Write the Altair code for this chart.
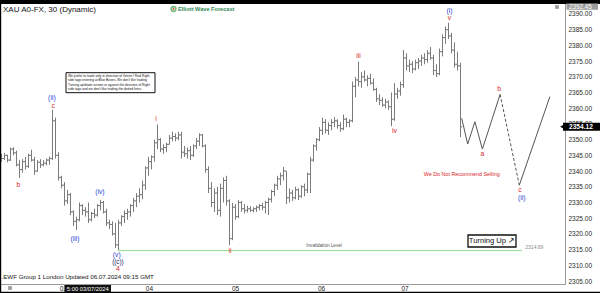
import altair as alt
import pandas as pd

FONT = "Liberation Sans"
RED = "#d81f1f"
BLUE = "#2a3fd6"
NAVY = "#1d2a6a"

# ---- 30-minute XAU bars: high / low / close (each bar opens at the prior close)
first_open = 2344.5
bar_high = [
    2345.5, 2345.8, 2345.2, 2347.5, 2347.6, 2346.5, 2343.5, 2343.8, 2344.5, 2345.5,
    2346.8, 2344.5, 2343.5, 2343.8, 2343.5, 2344.0, 2344.6, 2359.5, 2357.0, 2346.0,
    2338.5, 2336.5, 2334.0, 2333.0, 2327.5, 2325.5, 2330.0, 2329.5, 2328.5, 2330.0,
    2327.0, 2328.0, 2329.5, 2330.8, 2330.5, 2328.0, 2324.5, 2324.0, 2323.5, 2324.5,
    2326.0, 2327.5, 2328.0, 2329.5, 2331.5, 2333.0, 2334.5, 2337.0, 2341.5, 2344.5,
    2345.0, 2350.0, 2354.8, 2350.5, 2348.5, 2349.0, 2351.5, 2352.5, 2352.0, 2352.5,
    2352.5, 2348.0, 2347.5, 2348.0, 2348.5, 2350.5, 2352.0, 2351.8, 2348.5, 2341.5,
    2336.5, 2334.5, 2335.0, 2336.0, 2338.0, 2338.5, 2331.0, 2329.8, 2329.5, 2330.8,
    2330.5, 2329.5, 2329.0, 2328.8, 2328.5, 2329.0, 2329.5, 2329.8, 2330.5, 2331.5,
    2334.0, 2336.0, 2338.5, 2339.5, 2341.3, 2340.0, 2334.5, 2334.0, 2335.0, 2334.5,
    2335.5, 2336.0, 2339.5, 2344.5, 2348.5, 2350.5, 2354.0, 2357.0, 2356.5, 2355.5,
    2356.5, 2357.2, 2356.5, 2355.5, 2358.0, 2357.0, 2356.5, 2368.5, 2370.0, 2374.8,
    2371.5, 2372.0, 2370.5, 2371.0, 2369.5, 2366.5, 2364.5, 2363.5, 2363.0, 2362.5,
    2365.0, 2368.0, 2366.5, 2368.5, 2378.5, 2377.5, 2375.5, 2375.0, 2375.5, 2376.0,
    2377.0, 2377.5, 2378.5, 2379.5, 2377.0, 2374.0, 2379.0, 2383.5, 2386.0, 2387.2,
    2384.0, 2381.0, 2378.0, 2374.5,
]
bar_low = [
    2343.0, 2343.5, 2342.8, 2343.2, 2345.0, 2341.5, 2337.8, 2339.5, 2340.5, 2341.0,
    2343.0, 2338.8, 2339.8, 2341.0, 2341.5, 2341.8, 2342.0, 2343.5, 2344.0, 2337.0,
    2334.5, 2329.0, 2329.5, 2326.0, 2322.5, 2321.2, 2324.0, 2326.0, 2325.5, 2323.5,
    2324.0, 2325.0, 2325.5, 2327.5, 2326.5, 2322.5, 2321.5, 2319.5, 2315.5, 2314.9,
    2322.5, 2323.5, 2324.5, 2325.5, 2327.0, 2328.5, 2330.0, 2331.0, 2334.0, 2338.5,
    2340.5, 2343.0, 2347.0, 2346.0, 2345.5, 2346.0, 2348.5, 2349.5, 2349.5, 2349.8,
    2344.0, 2344.5, 2344.0, 2343.5, 2344.5, 2347.0, 2348.0, 2347.5, 2339.5, 2333.0,
    2328.5, 2327.0, 2326.0, 2325.5, 2330.0, 2329.0, 2316.4, 2318.0, 2324.5, 2325.0,
    2327.0, 2326.5, 2326.8, 2327.0, 2326.8, 2327.0, 2327.5, 2327.5, 2326.5, 2326.0,
    2330.0, 2332.0, 2334.0, 2335.5, 2337.0, 2329.5, 2330.0, 2330.5, 2331.0, 2330.8,
    2331.5, 2332.0, 2333.0, 2333.0, 2343.0, 2346.5, 2349.5, 2351.5, 2352.0, 2351.5,
    2353.0, 2354.0, 2353.5, 2352.5, 2353.0, 2354.0, 2354.0, 2355.5, 2363.5, 2367.0,
    2366.5, 2368.5, 2367.0, 2367.5, 2365.5, 2362.0, 2361.0, 2360.5, 2360.0, 2359.5,
    2354.3, 2356.0, 2363.0, 2364.0, 2366.5, 2372.0, 2371.5, 2371.2, 2372.0, 2372.5,
    2373.5, 2374.0, 2374.5, 2375.5, 2370.5, 2369.9, 2370.5, 2376.5, 2380.5, 2382.0,
    2377.5, 2373.0, 2372.0, 2350.8,
]
bar_close = [
    2344.0, 2345.0, 2343.5, 2347.0, 2345.8, 2342.0, 2340.5, 2343.0, 2341.5, 2345.0,
    2343.5, 2340.0, 2342.8, 2342.0, 2342.5, 2343.5, 2344.0, 2356.0, 2345.0, 2338.0,
    2335.5, 2330.5, 2332.5, 2327.0, 2324.0, 2324.5, 2329.0, 2327.5, 2327.0, 2324.5,
    2326.5, 2326.0, 2329.0, 2330.0, 2327.0, 2323.5, 2323.0, 2320.0, 2316.5, 2323.5,
    2325.5, 2326.5, 2327.0, 2329.0, 2330.5, 2332.0, 2332.5, 2335.5, 2341.0, 2343.0,
    2344.5, 2349.0, 2350.0, 2347.0, 2347.5, 2348.5, 2350.5, 2351.0, 2350.5, 2351.5,
    2346.0, 2345.5, 2346.5, 2345.0, 2348.0, 2349.5, 2351.5, 2348.0, 2340.5, 2334.5,
    2330.0, 2333.0, 2327.5, 2334.5, 2337.0, 2330.5, 2318.5, 2328.5, 2325.5, 2330.0,
    2328.0, 2327.5, 2328.0, 2327.5, 2328.0, 2328.5, 2329.0, 2328.5, 2330.0, 2331.0,
    2333.5, 2335.5, 2337.5, 2338.5, 2340.0, 2331.5, 2333.0, 2331.5, 2334.0, 2332.0,
    2335.0, 2334.0, 2339.0, 2343.5, 2348.0, 2350.0, 2353.0, 2355.5, 2353.0, 2354.5,
    2355.5, 2356.0, 2354.5, 2353.5, 2356.5, 2355.5, 2356.0, 2367.0, 2369.0, 2368.5,
    2370.0, 2369.0, 2369.5, 2368.0, 2366.0, 2363.0, 2362.5, 2361.0, 2362.0, 2360.5,
    2356.5, 2364.5, 2365.5, 2367.5, 2376.0, 2373.5, 2374.0, 2372.5, 2374.5, 2375.0,
    2376.0, 2375.5, 2377.5, 2376.0, 2372.0, 2371.0, 2378.0, 2382.5, 2385.0, 2383.0,
    2378.5, 2374.0, 2373.5, 2354.1,
]

# ---- day boundaries on the time axis (bar index) and their labels
day_pos = [20.6, 49.3, 78.0, 106.7, 134.5]
day_labels = ["03", "04", "05", "06", "07"]

# ---- price axis ticks
price_ticks = list(range(2305, 2391, 5))

# ---- wave counts (minor degree in red, minute degree in blue)
red_text = ["c", "b", "4", "i", "ii", "iii", "iv", "v", "a", "b", "c"]
red_pos = [17.2, 5.6, 38.8, 51.5, 76.2, 119.0, 131.0, 149.3, 160.3, 165.9, 172.8]
red_price = [2360.7, 2335.5, 2308.7, 2356.6, 2314.5, 2376.6, 2352.7, 2388.8, 2345.3, 2366.0, 2333.9]

blue_text = ["(ii)", "(iii)", "(iv)", "(v)", "(i)", "(ii)"]
blue_pos = [16.8, 24.5, 32.8, 38.4, 149.3, 173.4]
blue_price = [2363.3, 2318.3, 2333.2, 2313.3, 2391.1, 2331.4]

navy_text = ["((c))"]
navy_pos = [38.8]
navy_price = [2311.1]

# ---- projected path (a-b-c of wave (ii) and the turn up)
proj_pos = [153.4, 155.4, 157.8, 160.3, 166.2]
proj_price = [2356.8, 2348.6, 2355.7, 2347.0, 2364.4]
proj_dash_pos = [166.2, 172.6]
proj_dash_price = [2364.4, 2335.5]
proj_up_pos = [172.6, 182.8]
proj_up_price = [2335.5, 2363.7]

invalidation = 2314.69
invalidation_span = [38.8, 173.5]
last_price = 2354.12
session_high = 2392.45

note_lines = [
    "We prefer to trade only in direction of Green / Red Right",
    "side tags entering at Blue Boxes. We don't like trading",
    "Turning up/down arrows or against the direction of Right",
    "side tags and we don't like trading the dotted lines.",
]

# ---------------------------------------------------------------------------
n = len(bar_high)
opens = [first_open] + bar_close[:-1]
bars = pd.DataFrame({
    "i": list(range(n)),
    "high": bar_high,
    "low": bar_low,
    "open": opens,
    "close": bar_close,
})
bars["i_left"] = bars["i"] - 0.6
bars["i_right"] = bars["i"] + 0.6

W, H = 565, 281
x_scale = alt.Scale(domain=[-0.5, W / 3 - 0.5], nice=False, zero=False)
y_scale = alt.Scale(domain=[2304.05, 2393.5], nice=False, zero=False)

x_axis = alt.Axis(title=None, labels=False, ticks=False, grid=False,
                  domainColor="#9a9a9a", domainWidth=1)
y_axis = alt.Axis(title=None, orient="right", values=price_ticks, format=".2f",
                  grid=False, ticks=False, labelPadding=3, labelFontSize=6.5,
                  labelFont=FONT, labelColor="#2a2a2a", domainColor="#9a9a9a",
                  labelOverlap=False, labelFlush=False)


def X(field):
    return alt.X(field, scale=x_scale, axis=x_axis)


def Y(field):
    return alt.Y(field, scale=y_scale, axis=y_axis)


bar_color = "#7b7b7b"
base = alt.Chart(bars)
wicks = base.mark_rule(color=bar_color, strokeWidth=1).encode(
    x=X("i:Q"), y=Y("low:Q"), y2="high:Q",
)
open_ticks = base.mark_rule(color=bar_color, strokeWidth=1).encode(
    x=X("i_left:Q"), x2="i:Q", y=Y("open:Q")
)
close_ticks = base.mark_rule(color=bar_color, strokeWidth=1).encode(
    x=X("i:Q"), x2="i_right:Q", y=Y("close:Q")
)

# invalidation level
inv_df = pd.DataFrame({"x0": [invalidation_span[0]], "x1": [invalidation_span[1]],
                       "p": [invalidation]})
inv_line = alt.Chart(inv_df).mark_rule(color="#8fdc8f", strokeWidth=1).encode(
    x=X("x0:Q"), x2="x1:Q", y=Y("p:Q")
)
inv_text = alt.Chart(pd.DataFrame({"x": [107.5], "p": [invalidation + 1.3],
                                   "t": ["Invalidation Level"]})).mark_text(
    font=FONT, fontSize=4.6, color="#555555", baseline="middle"
).encode(x=X("x:Q"), y=Y("p:Q"), text="t:N")
inv_value = alt.Chart(pd.DataFrame({"x": [174.6], "p": [invalidation + 1.0],
                                    "t": [f"{invalidation:.2f}"]})).mark_text(
    font=FONT, fontSize=5, color="#8a8a8a", align="left", baseline="middle"
).encode(x=X("x:Q"), y=Y("p:Q"), text="t:N")


# projected path
def path_layer(pos, price, dash=None):
    df = pd.DataFrame({"x": pos, "p": price, "k": list(range(len(pos)))})
    kw = {"color": "#555555", "strokeWidth": 1}
    if dash:
        kw["strokeDash"] = dash
    return alt.Chart(df).mark_line(**kw).encode(x=X("x:Q"), y=Y("p:Q"), order="k:Q")


proj1 = path_layer(proj_pos, proj_price)
proj2 = path_layer(proj_dash_pos, proj_dash_price, dash=[3, 2])
proj3 = path_layer(proj_up_pos, proj_up_price)


# wave labels
def wave_layer(texts, pos, price, color, size):
    df = pd.DataFrame({"t": texts, "x": pos, "p": price})
    return alt.Chart(df).mark_text(font=FONT, baseline="middle", color=color,
                                   fontSize=size).encode(
        x=X("x:Q"), y=Y("p:Q"), text="t:N"
    )


waves_red = wave_layer(red_text, red_pos, red_price, RED, 6.8)
waves_blue = wave_layer(blue_text, blue_pos, blue_price, BLUE, 6.8)
waves_navy = wave_layer(navy_text, navy_pos, navy_price, NAVY, 6.3)

selling = alt.Chart(pd.DataFrame({"x": [153.4], "p": [2339.0],
                                  "t": ["We Do Not Recommend Selling"]})).mark_text(
    font=FONT, fontSize=5.4, color=RED, baseline="middle"
).encode(x=X("x:Q"), y=Y("p:Q"), text="t:N")

# day labels along the bottom
day_df = pd.DataFrame({"x": day_pos, "t": day_labels})
days = alt.Chart(day_df).mark_text(font=FONT, fontSize=6.5, color="#222222",
                                   baseline="middle").encode(
    x=X("x:Q"), y=alt.value(H + 4.5), text="t:N"
)

one = pd.DataFrame({"a": [0]})


def px_text(text, x, y, **kw):
    return alt.Chart(one).mark_text(text=text, font=FONT, baseline="middle", **kw).encode(
        x=alt.value(x), y=alt.value(y)
    )


def px_rect(x0, x1, y0, y1, **kw):
    return alt.Chart(one).mark_rect(**kw).encode(
        x=alt.value(x0), x2=alt.value(x1), y=alt.value(y0), y2=alt.value(y1)
    )


# frame pieces
top_band = px_rect(0, 600, -3, 1, color="#000000")
bottom_band = px_rect(0, 600, 288.8, 291, color="#000000")
left_edge = px_rect(0, 1.2, -3, 291, color="#000000")

# header, logo, footer
header = px_text("XAU A0-FX, 30 (Dynamic)", 3, 7, fontSize=8, color="#111111", align="left")
logo_ring = alt.Chart(one).mark_point(shape="circle", filled=False, color="#3c9a4c",
                                      strokeWidth=1.6, size=22).encode(
    x=alt.value(173.5), y=alt.value(6)
)
logo_dot = alt.Chart(one).mark_point(shape="circle", filled=True, color="#d8502a",
                                     size=4, opacity=1).encode(
    x=alt.value(173.5), y=alt.value(6)
)
logo = px_text("Elliott Wave Forecast", 178, 6, fontSize=5.6, fontWeight="bold",
               color="#2e8b57", align="left")
footer = px_text(".EWF Group 1 London Updated 06.07.2024 09:15 GMT", 1.5, 273.8,
                 fontSize=6.2, color="#151515", align="left")

# note box
note_box = px_rect(66, 155, 69.7, 89.7, fill="#ffffff", stroke="#111111", strokeWidth=1)
note_layers = [
    px_text(line, 68, 73 + 4.4 * k, fontSize=3.3, color="#111111", align="left")
    for k, line in enumerate(note_lines)
]

# turning up tag
turn_box = px_rect(468, 516, 232, 244, fill="#ffffff", stroke="#111111", strokeWidth=1.3)
turn_text = px_text("Turning Up \u2197", 492, 238.3, fontSize=7.6, color="#111111")

# time cursor tag on the bottom axis
cursor_box = px_rect(64.5, 111, 282, 289, color="#111111")
cursor_text = px_text("5:00 03/07/2024", 87.8, 285.6, fontSize=5.8, color="#ffffff")

# right-hand price tags
hi_df = pd.DataFrame({"p0": [session_high - 1.1], "p1": [session_high + 0.9],
                      "p": [session_high - 0.1], "t": [f"{session_high:.2f}"]})
hi_box = alt.Chart(hi_df).mark_rect(color="#9c9c9c").encode(
    x=alt.value(566.5), x2=alt.value(598), y=Y("p0:Q"), y2="p1:Q"
)
hi_text = alt.Chart(hi_df).mark_text(font=FONT, fontSize=6.3, color="#ffffff",
                                     align="left", baseline="middle").encode(
    x=alt.value(569), y=Y("p:Q"), text="t:N"
)
last_df = pd.DataFrame({"p0": [last_price - 1.3], "p1": [last_price + 1.3],
                        "p": [last_price], "t": [f"{last_price:.2f}"]})
last_box = alt.Chart(last_df).mark_rect(color="#000000").encode(
    x=alt.value(563), x2=alt.value(600), y=Y("p0:Q"), y2="p1:Q"
)
last_arrow = alt.Chart(last_df).mark_point(shape="triangle-left", filled=True,
                                           color="#000000", size=18, opacity=1).encode(
    x=alt.value(562), y=Y("p:Q")
)
last_text = alt.Chart(last_df).mark_text(font=FONT, fontSize=6.6, fontWeight="bold",
                                         color="#ffffff", align="left",
                                         baseline="middle").encode(
    x=alt.value(569), y=Y("p:Q"), text="t:N"
)

corner_sq = alt.Chart(one).mark_square(color="#9a9a9a", size=14, opacity=1).encode(
    x=alt.value(557), y=alt.value(4)
)
corner_sq2 = alt.Chart(one).mark_square(color="#9a9a9a", size=14, opacity=1).encode(
    x=alt.value(10), y=alt.value(285)
)

chart = alt.layer(
    wicks, open_ticks, close_ticks,
    inv_line, inv_text, inv_value,
    proj1, proj2, proj3,
    waves_red, waves_blue, waves_navy, selling, days,
    top_band, bottom_band, left_edge,
    header, logo_ring, logo_dot, logo, footer,
    note_box, *note_layers,
    turn_box, turn_text,
    cursor_box, cursor_text,
    hi_box, hi_text, last_box, last_arrow, last_text,
    corner_sq, corner_sq2,
).properties(
    width=W, height=H,
    padding={"left": 0, "top": 3, "right": 35, "bottom": 9},
    autosize=alt.AutoSizeParams(type="none"),
    background="#ffffff",
).configure_view(stroke=None).configure_axisY(labelOverlap=False)

chart.save("out.html", embed_options={"renderer": "svg", "actions": False})
